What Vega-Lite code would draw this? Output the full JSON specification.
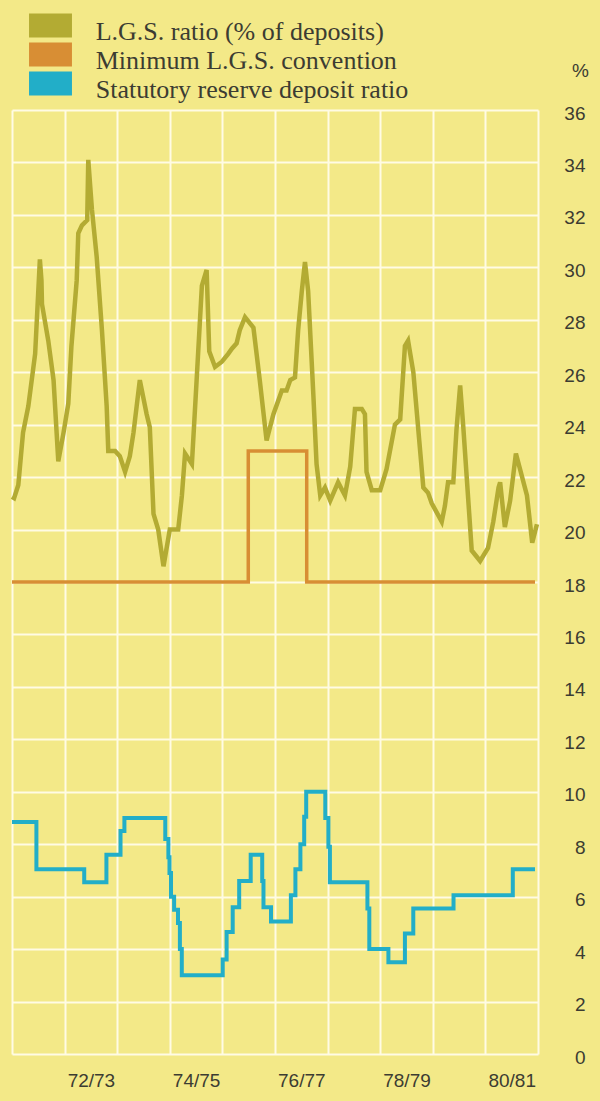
{
  "$schema": "https://vega.github.io/schema/vega-lite/v6.json",
  "width": 526,
  "height": 944,
  "autosize": "none",
  "padding": {"left": 12, "top": 110, "right": 62, "bottom": 47},
  "background": "#f3e988",
  "config": {
    "view": {"stroke": null},
    "axis": {"labelFont": "Liberation Sans", "labelFontSize": 19, "labelColor": "#3c3c32", "gridColor": "#fffbe4", "gridWidth": 2, "domain": false, "ticks": false, "tickSize": 0}
  },
  "datasets": {
    "lgs": [
      {"t":1971.50,"v":21.25},{"t":1971.54,"v":21.2},{"t":1971.62,"v":21.7},{"t":1971.71,"v":23.7},{"t":1971.81,"v":24.7},{"t":1971.94,"v":26.7},{"t":1972.03,"v":30.3},{"t":1972.06,"v":29.5},{"t":1972.07,"v":28.6},{"t":1972.19,"v":27.2},{"t":1972.29,"v":25.7},{"t":1972.38,"v":22.6},{"t":1972.48,"v":23.7},{"t":1972.57,"v":24.8},{"t":1972.63,"v":27.0},{"t":1972.73,"v":29.5},{"t":1972.76,"v":31.3},{"t":1972.83,"v":31.6},{"t":1972.93,"v":31.8},{"t":1972.95,"v":34.1},{"t":1973.02,"v":32.2},{"t":1973.11,"v":30.4},{"t":1973.21,"v":27.6},{"t":1973.30,"v":24.7},{"t":1973.33,"v":23.0},{"t":1973.46,"v":23.0},{"t":1973.55,"v":22.8},{"t":1973.65,"v":22.2},{"t":1973.74,"v":22.8},{"t":1973.81,"v":23.7},{"t":1973.93,"v":25.7},{"t":1974.06,"v":24.4},{"t":1974.12,"v":23.9},{"t":1974.19,"v":20.6},{"t":1974.28,"v":20.0},{"t":1974.38,"v":18.6},{"t":1974.50,"v":20.0},{"t":1974.66,"v":20.0},{"t":1974.73,"v":21.3},{"t":1974.79,"v":22.9},{"t":1974.92,"v":22.5},{"t":1975.01,"v":25.7},{"t":1975.11,"v":29.3},{"t":1975.20,"v":29.9},{"t":1975.25,"v":26.8},{"t":1975.36,"v":26.2},{"t":1975.49,"v":26.4},{"t":1975.61,"v":26.7},{"t":1975.68,"v":26.9},{"t":1975.77,"v":27.1},{"t":1975.83,"v":27.6},{"t":1975.93,"v":28.1},{"t":1976.09,"v":27.7},{"t":1976.21,"v":25.7},{"t":1976.34,"v":23.4},{"t":1976.47,"v":24.4},{"t":1976.63,"v":25.3},{"t":1976.72,"v":25.3},{"t":1976.79,"v":25.7},{"t":1976.88,"v":25.8},{"t":1976.94,"v":27.6},{"t":1977.01,"v":29.1},{"t":1977.07,"v":30.2},{"t":1977.13,"v":29.1},{"t":1977.23,"v":25.1},{"t":1977.29,"v":22.5},{"t":1977.36,"v":21.3},{"t":1977.45,"v":21.6},{"t":1977.55,"v":21.1},{"t":1977.70,"v":21.8},{"t":1977.83,"v":21.3},{"t":1977.93,"v":22.4},{"t":1978.02,"v":24.6},{"t":1978.15,"v":24.6},{"t":1978.21,"v":24.4},{"t":1978.24,"v":22.2},{"t":1978.34,"v":21.5},{"t":1978.50,"v":21.5},{"t":1978.62,"v":22.3},{"t":1978.78,"v":24.0},{"t":1978.88,"v":24.2},{"t":1978.97,"v":27.0},{"t":1979.03,"v":27.2},{"t":1979.13,"v":26.0},{"t":1979.32,"v":21.6},{"t":1979.41,"v":21.4},{"t":1979.48,"v":21.0},{"t":1979.67,"v":20.3},{"t":1979.73,"v":20.9},{"t":1979.79,"v":21.8},{"t":1979.89,"v":21.8},{"t":1979.95,"v":23.8},{"t":1980.02,"v":25.5},{"t":1980.08,"v":23.9},{"t":1980.24,"v":19.2},{"t":1980.40,"v":18.8},{"t":1980.55,"v":19.3},{"t":1980.65,"v":20.3},{"t":1980.75,"v":21.6},{"t":1980.78,"v":21.8},{"t":1980.87,"v":20.1},{"t":1980.97,"v":21.1},{"t":1981.08,"v":22.9},{"t":1981.29,"v":21.3},{"t":1981.39,"v":19.5},{"t":1981.48,"v":20.2}
    ],
    "minlgs": [
      {"t":1971.50,"v":18},{"t":1975.992,"v":18},{"t":1975.992,"v":23},{"t":1977.103,"v":23},{"t":1977.103,"v":18},{"t":1981.443,"v":18}
    ],
    "srd": [
      {"t":1971.5,"v":8.85},{"t":1971.964,"v":8.85},{"t":1971.964,"v":7.05},{"t":1972.873,"v":7.05},{"t":1972.873,"v":6.55},{"t":1973.295,"v":6.55},{"t":1973.295,"v":7.6},{"t":1973.563,"v":7.6},{"t":1973.563,"v":8.5},{"t":1973.637,"v":8.5},{"t":1973.637,"v":9.0},{"t":1974.414,"v":9.0},{"t":1974.414,"v":8.2},{"t":1974.473,"v":8.2},{"t":1974.473,"v":7.5},{"t":1974.494,"v":7.5},{"t":1974.494,"v":6.9},{"t":1974.523,"v":6.9},{"t":1974.523,"v":6.0},{"t":1974.582,"v":6.0},{"t":1974.582,"v":5.5},{"t":1974.656,"v":5.5},{"t":1974.656,"v":5.0},{"t":1974.692,"v":5.0},{"t":1974.692,"v":4.0},{"t":1974.728,"v":4.0},{"t":1974.728,"v":3.0},{"t":1975.506,"v":3.0},{"t":1975.506,"v":3.6},{"t":1975.580,"v":3.6},{"t":1975.580,"v":4.65},{"t":1975.696,"v":4.65},{"t":1975.696,"v":5.6},{"t":1975.819,"v":5.6},{"t":1975.819,"v":6.6},{"t":1976.038,"v":6.6},{"t":1976.038,"v":7.6},{"t":1976.257,"v":7.6},{"t":1976.257,"v":6.6},{"t":1976.281,"v":6.6},{"t":1976.281,"v":5.6},{"t":1976.424,"v":5.6},{"t":1976.424,"v":5.05},{"t":1976.802,"v":5.05},{"t":1976.802,"v":6.05},{"t":1976.888,"v":6.05},{"t":1976.888,"v":7.05},{"t":1976.983,"v":7.05},{"t":1976.983,"v":8.0},{"t":1977.055,"v":8.0},{"t":1977.055,"v":9.05},{"t":1977.093,"v":9.05},{"t":1977.093,"v":10.0},{"t":1977.456,"v":10.0},{"t":1977.456,"v":9.0},{"t":1977.515,"v":9.0},{"t":1977.515,"v":7.9},{"t":1977.544,"v":7.9},{"t":1977.544,"v":6.55},{"t":1978.257,"v":6.55},{"t":1978.257,"v":5.55},{"t":1978.293,"v":5.55},{"t":1978.293,"v":4.0},{"t":1978.656,"v":4.0},{"t":1978.656,"v":3.5},{"t":1978.970,"v":3.5},{"t":1978.970,"v":4.6},{"t":1979.129,"v":4.6},{"t":1979.129,"v":5.55},{"t":1979.894,"v":5.55},{"t":1979.894,"v":6.05},{"t":1981.021,"v":6.05},{"t":1981.021,"v":7.05},{"t":1981.443,"v":7.05}
    ]
  },
  "encoding": {
    "x": {
      "field": "t", "type": "quantitative",
      "scale": {"domain": [1971.5, 1981.5], "nice": false, "zero": false},
      "axis": {
        "title": null, "orient": "bottom",
        "values": [1971.5,1972.5,1973,1973.5,1974.5,1975,1975.5,1976.5,1977,1977.5,1978.5,1979,1979.5,1980.5,1981,1981.5],
        "gridOpacity": {"condition": {"test": "datum.value % 1 === 0", "value": 0}, "value": 1},
        "labelExpr": "datum.value % 1 === 0 ? (datum.value - 1901) + '/' + (datum.value - 1900) : ''",
        "labelPadding": 17, "labelBaseline": "top", "labelOverlap": false, "labelFlush": false
      }
    },
    "y": {
      "field": "v", "type": "quantitative",
      "scale": {"domain": [0, 36], "nice": false},
      "axis": {
        "orient": "right", "values": [0,2,4,6,8,10,12,14,16,18,20,22,24,26,28,30,32,34,36],
        "labelAlign": "right", "labelPadding": 47, "labelBaseline": "middle", "labelOffset": 3,
        "title": "%", "titleAngle": 0, "titleX": 42, "titleY": -40, "titleAlign": "center", "titleBaseline": "middle",
        "titleFont": "Liberation Sans", "titleFontSize": 19, "titleFontWeight": "normal", "titleColor": "#3c3c32"
      }
    }
  },
  "layer": [
    {
      "data": {"name": "minlgs"},
      "mark": {"type": "line", "strokeWidth": 3.5, "strokeJoin": "miter"},
      "encoding": {
        "color": {
          "datum": "Minimum L.G.S. convention",
          "scale": {"domain": ["L.G.S. ratio (% of deposits)", "Minimum L.G.S. convention", "Statutory reserve deposit ratio"], "range": ["#b3ab33", "#d88e34", "#22aec8"]},
          "legend": {
            "orient": "none", "legendX": 25, "legendY": -92, "title": null, "padding": 0,
            "symbolType": "M-1.59,-1.33H1.59V0.44H-1.59Z", "symbolSize": 729, "symbolStrokeWidth": 0, "symbolOpacity": 1,
            "labelFont": "Liberation Serif", "labelFontSize": 26, "labelColor": "#3c3c32", "labelOffset": 31.7, "labelLimit": 0, "rowPadding": -3,
            "encode": {"symbols": {"update": {"fill": {"scale": "color", "field": "value"}, "stroke": {"value": "transparent"}}}}
          }
        }
      }
    },
    {
      "data": {"name": "lgs"},
      "mark": {"type": "line", "strokeWidth": 4.5, "strokeJoin": "miter"},
      "encoding": {"color": {"datum": "L.G.S. ratio (% of deposits)"}}
    },
    {
      "data": {"name": "srd"},
      "mark": {"type": "line", "strokeWidth": 4, "strokeJoin": "miter"},
      "encoding": {"color": {"datum": "Statutory reserve deposit ratio"}}
    }
  ]
}
